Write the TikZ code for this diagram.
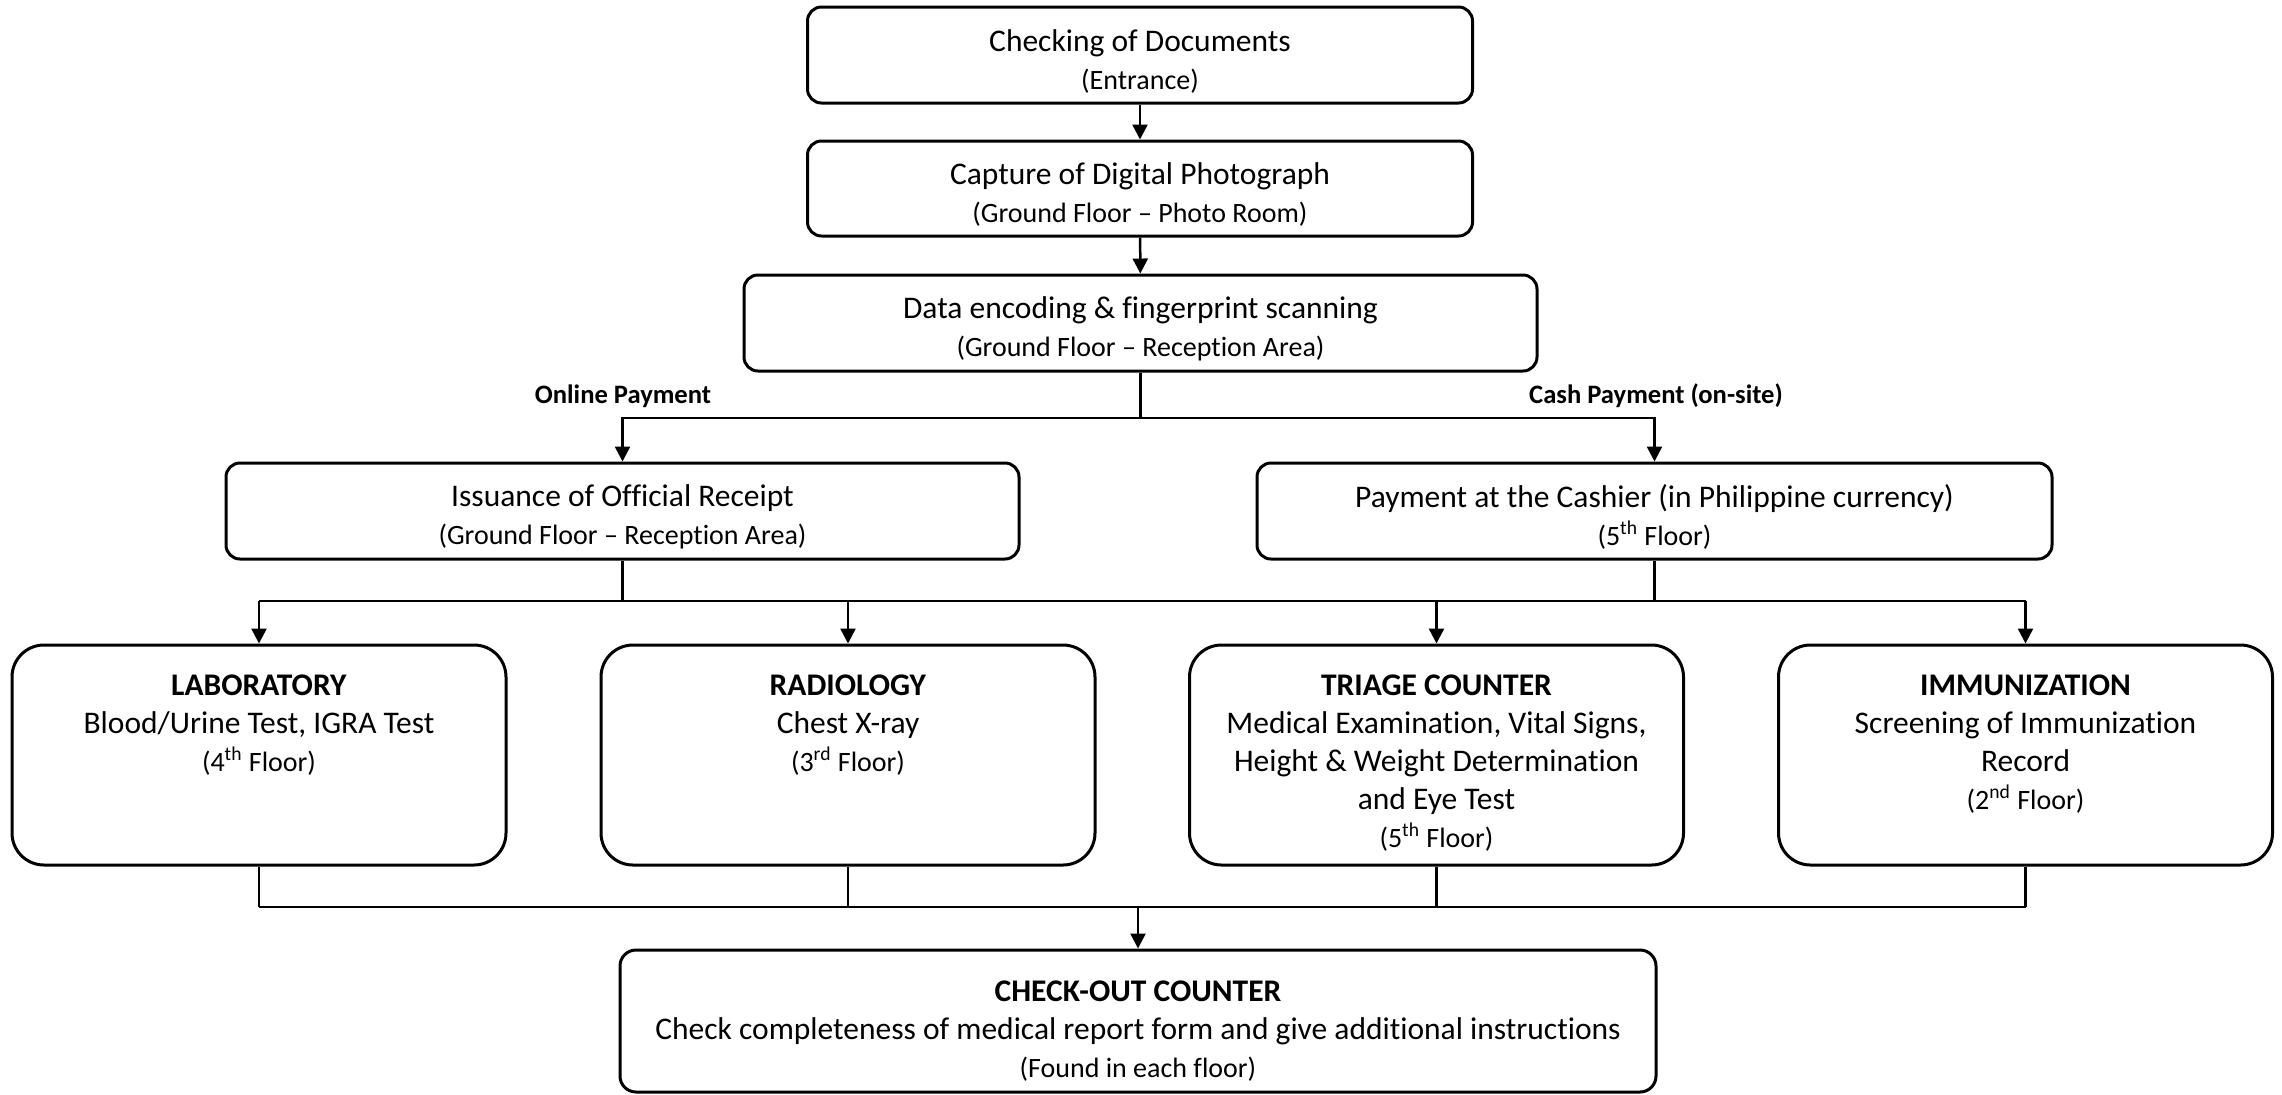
\documentclass[tikz,border=0pt]{standalone}
\usepackage{fontspec}
\setmainfont[Ligatures=NoCommon]{Carlito}
\usetikzlibrary{arrows.meta}
\newcommand{\mainf}{\fontsize{15.75}{19}\selectfont}
\newcommand{\subf}{\fontsize{14}{17}\selectfont}
\newcommand{\labf}{\fontsize{13.3}{16}\selectfont\bfseries}
\newcommand{\topstrut}{\rule{0pt}{17pt}}
\begin{document}
\begin{tikzpicture}[x=0.5pt,y=-0.5pt,
  topbox/.style={draw,line width=1.5pt,rounded corners=7pt,align=center,font=\mainf,inner sep=0pt},
  rowbox/.style={draw,line width=1.5pt,rounded corners=16pt,minimum width=247pt,minimum height=110pt,inner sep=0pt},
  rowtext/.style={align=center,font=\mainf,inner sep=0pt,anchor=north},
  conn/.style={line width=1.25pt},
  arr/.style={conn,-{Triangle[length=7.5pt,width=7.5pt]}},
  paylabel/.style={font=\labf,inner sep=0pt}]
\useasboundingbox (0,0) rectangle (2282,1094);
% top chain
\node[topbox,minimum width=332.5pt,minimum height=48pt] (doc) at (1140,55)
  {\topstrut Checking of Documents\\{\subf (Entrance)}};
\node[topbox,minimum width=332.5pt,minimum height=47.5pt] (photo) at (1140,188.5)
  {\topstrut Capture of Digital Photograph\\{\subf (Ground Floor -- Photo Room)}};
\node[topbox,minimum width=396.5pt,minimum height=48pt] (data) at (1140.5,323)
  {\topstrut Data encoding \& fingerprint scanning\\{\subf (Ground Floor -- Reception Area)}};
\node[topbox,minimum width=396.5pt,minimum height=48pt] (receipt) at (622.5,511)
  {\topstrut Issuance of Official Receipt\\{\subf (Ground Floor -- Reception Area)}};
\node[topbox,minimum width=397.5pt,minimum height=48pt] (cashier) at (1654.5,511)
  {\topstrut Payment at the Cashier (in Philippine currency)\\{\subf (5\textsuperscript{th} Floor)}};
% labels
\node[paylabel] (online) at (623,396) {Online Payment};
\node[paylabel] (cash) at (1656,396) {Cash Payment (on-site)};
% row boxes
\node[rowbox] (lab) at (259,755) {};
\node[rowbox] (rad) at (848,755) {};
\node[rowbox] (tri) at (1436.5,755) {};
\node[rowbox] (imm) at (2025.5,755) {};
\node[rowtext] (labt) at (259,674) {\textbf{LABORATORY}\\Blood/Urine Test, IGRA Test\\{\subf (4\textsuperscript{th} Floor)}};
\node[rowtext] (radt) at (848,674) {\textbf{RADIOLOGY}\\Chest X-ray\\{\subf (3\textsuperscript{rd} Floor)}};
\node[rowtext] (trit) at (1436.5,674) {\textbf{TRIAGE COUNTER}\\Medical Examination, Vital Signs,\\Height \& Weight Determination\\and Eye Test\\{\subf (5\textsuperscript{th} Floor)}};
\node[rowtext] (immt) at (2025.5,674) {\textbf{IMMUNIZATION}\\Screening of Immunization\\Record\\{\subf (2\textsuperscript{nd} Floor)}};
% checkout
\node[draw,line width=1.5pt,rounded corners=8pt,minimum width=518pt,minimum height=71pt,inner sep=0pt] (check) at (1138,1021) {};
\node[rowtext] (checkt) at (1138,980) {\textbf{CHECK-OUT COUNTER}\\Check completeness of medical report form and give additional instructions\\{\subf (Found in each floor)}};
% coordinates for buses
\coordinate (splity) at (0,418);
\coordinate (busy) at (0,601);
\coordinate (busb) at (0,907);
% connectors
\draw[arr] (doc) -- (photo);
\draw[arr] (photo) -- (data);
\draw[conn] (data.south) -- (data.south |- splity);
\draw[arr] (data.south |- splity) -| (receipt.north);
\draw[arr] (data.south |- splity) -| (cashier.north);
\draw[conn] (receipt.south) -- (receipt.south |- busy);
\draw[conn] (cashier.south) -- (cashier.south |- busy);
\draw[conn] (lab.north |- busy) -- (imm.north |- busy);
\foreach \n in {lab,rad,tri,imm}{
  \draw[arr] (\n.north |- busy) -- (\n.north);
  \draw[conn] (\n.south) -- (\n.south |- busb);
}
\draw[conn] (lab.south |- busb) -- (imm.south |- busb);
\draw[arr] (check.north |- busb) -- (check.north);
\end{tikzpicture}
\end{document}
